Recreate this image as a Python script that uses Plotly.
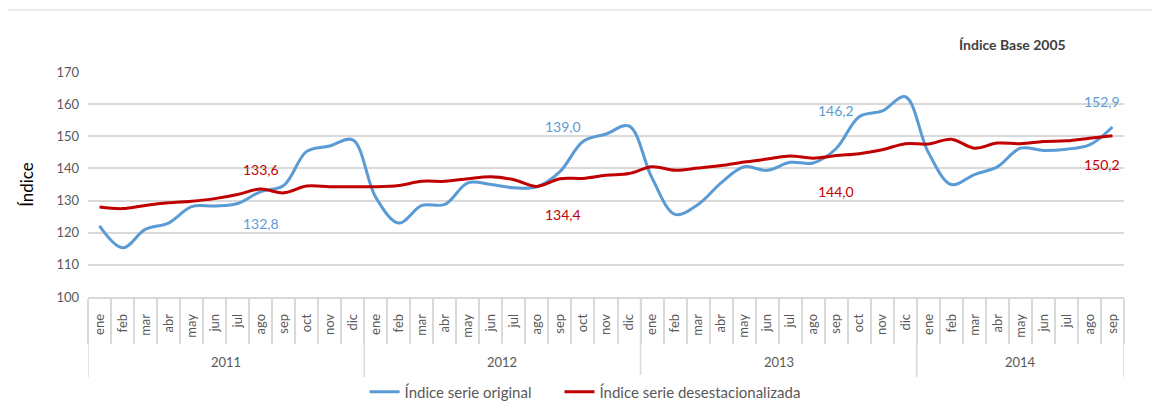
import plotly.graph_objects as go
import numpy as np

months_2011 = ["ene", "feb", "mar", "abr", "may", "jun", "jul", "ago", "sep", "oct", "nov", "dic"]
months_2014 = ["ene", "feb", "mar", "abr", "may", "jun", "jul", "ago", "sep"]
year_names = ["2011", "2012", "2013", "2014"]
year_counts = [12, 12, 12, 9]
months = months_2011 * 3 + months_2014

serie_original = [
    122.1, 115.3, 121.1, 123.0, 128.1, 128.3, 129.1, 132.8, 134.7, 145.3, 147.0, 148.9,
    131.0, 123.0, 128.5, 128.8, 135.5, 135.0, 134.0, 134.3, 139.0, 148.4, 150.7, 153.2,
    137.0, 125.7, 128.8, 135.5, 140.5, 139.4, 141.9, 141.7, 146.2, 156.1, 157.9, 162.3,
    145.0, 135.0, 138.1, 140.5, 146.3, 145.6, 146.0, 147.3, 152.9,
]
serie_desest = [
    128.0, 127.5, 128.5, 129.3, 129.8, 130.6, 131.9, 133.6, 132.4, 134.5, 134.3, 134.3,
    134.3, 134.7, 136.0, 136.0, 136.8, 137.4, 136.5, 134.4, 136.8, 136.9, 137.9, 138.4,
    140.5, 139.4, 140.1, 140.9, 142.0, 142.9, 143.9, 143.2, 144.0, 144.6, 145.8, 147.7,
    147.6, 149.1, 146.3, 147.9, 147.7, 148.4, 148.6, 149.4, 150.2,
]

# data labels: (year, month) of the labelled point, text, and vertical placement (axis units)
label_years = ["2011", "2012", "2013", "2014"]
label_months = ["ago", "sep", "sep", "sep"]
label_orig = ["132,8", "139,0", "146,2", "152,9"]
label_desest = ["133,6", "134,4", "144,0", "150,2"]
label_orig_y = [123.0, 153.2, 158.1, 160.7]
label_desest_y = [139.6, 125.7, 132.9, 141.2]
label_xshift = [0, 3, 0, -10]

BLUE = "#5b9bd5"
RED = "#c00000"
GRAY = "#595959"
LINE = "#d9d9d9"
FONT = "Lato"

n = len(months)
xs = np.arange(n)
year_start = np.concatenate([[0], np.cumsum(year_counts)[:-1]])
year_bounds = np.concatenate([year_start, [n]]) - 0.5
year_centers = year_start + (np.array(year_counts) - 1) / 2.0


def label_index(y, m):
    start = year_start[year_names.index(y)]
    return int(start + months_2011.index(m))


lab_x = [label_index(y, m) for y, m in zip(label_years, label_months)]

fig = go.Figure()
fig.add_trace(go.Scatter(
    x=xs, y=serie_original, mode="lines",
    name="Índice serie original" + "\u00a0" * 6,
    line=dict(color=BLUE, width=3, shape="spline", smoothing=1.0),
))
fig.add_trace(go.Scatter(
    x=xs, y=serie_desest, mode="lines", name="Índice serie desestacionalizada",
    line=dict(color=RED, width=3, shape="spline", smoothing=1.0),
))

shapes = [
    dict(type="line", xref="x", yref="paper", x0=b, x1=b, y0=0, y1=-0.356,
         line=dict(color=LINE, width=1.5))
    for b in year_bounds
]
shapes.append(dict(type="rect", xref="paper", yref="paper", x0=-0.078, x1=1.028,
                   y0=-0.6, y1=1.276, line=dict(color=LINE, width=1), layer="below"))

annotations = [
    dict(text=yn, xref="x", yref="paper", x=c, y=-0.289, showarrow=False,
         xanchor="center", yanchor="middle", font=dict(size=13, color=GRAY, family=FONT))
    for yn, c in zip(year_names, year_centers)
]
for lx, txt, ly, sh in zip(lab_x, label_orig, label_orig_y, label_xshift):
    annotations.append(dict(text=txt, x=lx, y=ly, xref="x", yref="y", showarrow=False,
                            xshift=sh, font=dict(size=14, color=BLUE, family=FONT)))
for lx, txt, ly, sh in zip(lab_x, label_desest, label_desest_y, label_xshift):
    annotations.append(dict(text=txt, x=lx, y=ly, xref="x", yref="y", showarrow=False,
                            xshift=sh, font=dict(size=14, color=RED, family=FONT)))
annotations.append(dict(text="<b>Índice Base 2005</b>", xref="paper", yref="paper", x=0.892, y=1.12,
                        xanchor="center", yanchor="middle", showarrow=False,
                        font=dict(size=14, color="#404040", family=FONT)))

fig.update_layout(
    width=1160, height=417,
    margin=dict(l=80, r=44, t=64, b=128, autoexpand=False),
    paper_bgcolor="white", plot_bgcolor="white",
    font=dict(family=FONT, color=GRAY, size=12),
    showlegend=True,
    legend=dict(orientation="h", x=0.267, xanchor="left", y=-0.422, yanchor="middle",
                font=dict(size=15, color=GRAY, family=FONT)),
    annotations=annotations,
    shapes=shapes,
)
fig.update_yaxes(
    range=[100, 170], dtick=10, showgrid=True, gridcolor=LINE, gridwidth=1.5,
    zeroline=False, tickfont=dict(size=13, color=GRAY), ticklabelstandoff=8,
    automargin=False,
    title=dict(text="Índice", font=dict(size=17, color="#000000"), standoff=18),
)
fig.update_xaxes(
    range=[-0.5, n - 0.5], tickmode="array", tickvals=xs, ticktext=months,
    tickangle=-90, ticks="", showline=True, linecolor=LINE, linewidth=1.5,
    tickfont=dict(size=13, color=GRAY), ticklabelstandoff=10, showgrid=False,
    zeroline=False, automargin=False,
    minor=dict(tickmode="array", tickvals=np.arange(n + 1) - 0.5, ticks="outside",
               ticklen=45, tickcolor=LINE, tickwidth=1.5, showgrid=False),
)

fig.write_html("out.html")
